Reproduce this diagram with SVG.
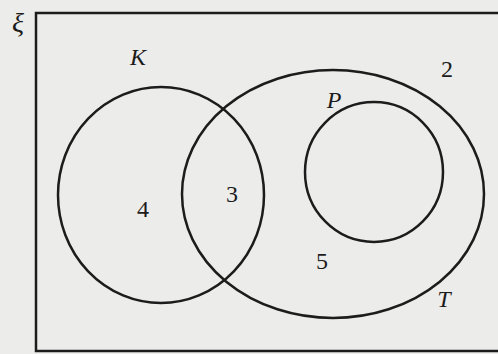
<svg xmlns="http://www.w3.org/2000/svg" width="498" height="354" viewBox="0 0 498 354">
<style>
.s{fill:none;stroke:#1c1c1c;stroke-width:2.5}
.t{font-family:"Liberation Serif","Times New Roman",serif;font-size:24px;fill:#1c1c1c;text-anchor:middle}
.i{font-style:italic}
</style>
<rect width="498" height="354" fill="#ececea"/>
<g id="universe">
<rect class="s" x="36" y="13" width="480" height="338"/>
<text class="t i" x="18" y="32" style="font-size:28px">ξ</text>
<text class="t" x="447" y="77">2</text>
</g>
<g id="K">
<ellipse class="s" cx="161" cy="195" rx="103" ry="108"/>
<text class="t i" x="138" y="65">K</text>
<text class="t" x="143" y="217">4</text>
</g>
<g id="T">
<ellipse class="s" cx="333" cy="194" rx="151" ry="124"/>
<text class="t i" x="444" y="307">T</text>
<text class="t" x="232" y="202">3</text>
<text class="t" x="322" y="269">5</text>
</g>
<g id="P">
<ellipse class="s" cx="374" cy="172" rx="69" ry="70"/>
<text class="t i" x="334" y="108">P</text>
</g>
<g id="connectors"/>
</svg>
